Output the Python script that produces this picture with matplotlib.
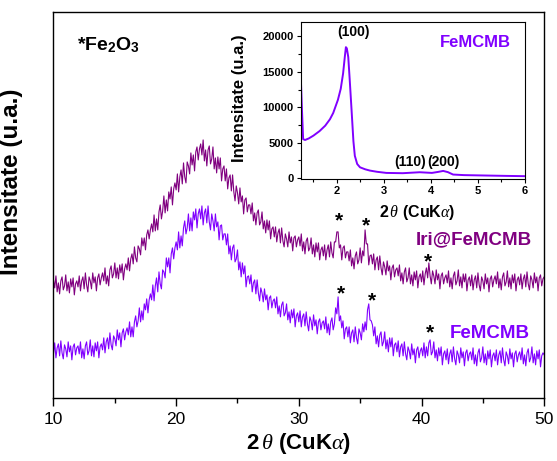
import numpy as np
import matplotlib
matplotlib.use('Agg')
import matplotlib.pyplot as plt
from matplotlib.ticker import MultipleLocator

plt.rcParams['font.family'] = ['Liberation Sans', 'DejaVu Sans']
plt.rcParams['mathtext.fontset'] = 'custom'
plt.rcParams['mathtext.rm'] = 'Liberation Sans'
plt.rcParams['mathtext.bf'] = 'Liberation Sans:bold'
plt.rcParams['mathtext.it'] = 'Liberation Serif:italic'

# 2theta grid of the wide-angle scans (deg), step 0.1
two_theta = np.round(np.arange(10.0, 50.001, 0.1), 1)

# Iri@FeMCMB, arbitrary units (offset trace), one row per 2 deg
iri = [
    118, 110, 122, 106, 115, 104, 117, 121, 108, 112, 123, 107, 116, 105, 119, 111, 120, 103, 114, 117,
    111, 122, 107, 117, 121, 109, 125, 113, 106, 121, 117, 109, 125, 115, 121, 107, 120, 124, 113, 120,
    125, 117, 130, 114, 122, 112, 128, 132, 120, 124, 135, 120, 130, 119, 133, 125, 134, 118, 129, 134,
    128, 140, 127, 139, 144, 134, 151, 140, 136, 152, 149, 143, 160, 152, 160, 148, 163, 168, 159, 168,
    174, 166, 183, 167, 179, 168, 186, 193, 179, 187, 202, 185, 198, 187, 206, 199, 211, 193, 209, 215,
    208, 224, 206, 221, 228, 214, 235, 221, 215, 236, 232, 224, 245, 233, 243, 227, 246, 251, 238, 249,
    254, 243, 258, 237, 248, 232, 248, 252, 234, 239, 251, 229, 240, 225, 241, 229, 240, 217, 229, 232,
    217, 229, 209, 220, 223, 207, 223, 206, 197, 212, 205, 194, 210, 196, 202, 184, 198, 200, 186, 193,
    193, 184, 195, 177, 185, 173, 185, 188, 173, 176, 186, 169, 177, 165, 178, 168, 177, 159, 169, 171,
    161, 171, 156, 165, 169, 155, 170, 157, 151, 164, 159, 151, 166, 155, 161, 147, 160, 162, 151, 158,
    161, 152, 164, 147, 156, 144, 157, 160, 147, 150, 160, 144, 153, 141, 155, 146, 155, 138, 148, 151,
    142, 153, 138, 148, 153, 141, 156, 145, 140, 156, 156, 166, 166, 150, 153, 138, 150, 152, 140, 146,
    146, 137, 148, 132, 140, 129, 142, 146, 134, 138, 150, 135, 147, 142, 168, 154, 154, 133, 142, 143,
    134, 144, 128, 138, 141, 128, 142, 130, 123, 136, 131, 123, 137, 127, 132, 118, 130, 133, 121, 128,
    130, 122, 133, 117, 125, 114, 126, 130, 116, 120, 130, 114, 123, 112, 126, 118, 127, 110, 121, 124,
    116, 127, 113, 124, 130, 120, 135, 122, 114, 127, 122, 114, 128, 118, 124, 109, 122, 125, 114, 120,
    123, 115, 127, 111, 120, 109, 122, 126, 113, 117, 128, 112, 121, 110, 124, 116, 124, 107, 118, 121,
    112, 123, 108, 118, 122, 110, 125, 113, 107, 121, 117, 109, 124, 114, 120, 106, 119, 122, 111, 118,
    122, 114, 126, 110, 119, 108, 121, 125, 112, 116, 127, 111, 120, 109, 123, 115, 124, 107, 118, 121,
    113, 124, 109, 119, 123, 111, 126, 114, 108, 122, 118, 110, 125, 115, 121, 107, 120, 123, 112, 119,
    121,
]

# FeMCMB, arbitrary units
femcmb = [
    44, 55, 40, 50, 54, 42, 57, 45, 39, 53, 49, 41, 56, 46, 52, 38, 51, 54, 43, 50,
    52, 44, 56, 40, 49, 39, 52, 56, 43, 47, 58, 42, 52, 41, 55, 47, 56, 40, 51, 54,
    48, 60, 45, 56, 60, 49, 65, 53, 48, 62, 59, 52, 68, 58, 65, 51, 65, 69, 58, 66,
    70, 63, 76, 61, 71, 61, 76, 82, 71, 77, 90, 76, 87, 78, 94, 88, 99, 85, 98, 104,
    98, 113, 97, 112, 120, 106, 126, 114, 109, 128, 126, 120, 140, 131, 140, 125, 144, 150, 139, 150,
    156, 148, 166, 150, 162, 152, 170, 177, 164, 170, 184, 167, 180, 167, 186, 178, 189, 170, 184, 189,
    179, 192, 173, 185, 189, 175, 192, 176, 168, 184, 177, 167, 184, 171, 176, 158, 172, 173, 158, 164,
    164, 153, 164, 144, 152, 138, 150, 153, 136, 139, 148, 128, 136, 121, 135, 124, 132, 111, 121, 122,
    114, 123, 106, 115, 118, 104, 118, 105, 97, 110, 105, 96, 109, 98, 103, 88, 100, 102, 90, 97,
    99, 90, 101, 84, 92, 81, 93, 96, 82, 85, 94, 78, 86, 75, 88, 80, 89, 71, 82, 85,
    76, 87, 71, 81, 84, 72, 86, 74, 67, 81, 77, 68, 83, 72, 78, 64, 76, 79, 68, 75,
    77, 69, 81, 65, 74, 63, 76, 80, 68, 74, 90, 84, 101, 77, 82, 70, 77, 59, 69, 71,
    61, 71, 55, 65, 68, 56, 71, 60, 54, 69, 65, 58, 74, 66, 76, 68, 88, 94, 78, 77,
    73, 62, 71, 54, 62, 51, 63, 66, 52, 56, 66, 49, 58, 46, 60, 51, 60, 42, 53, 55,
    46, 57, 41, 51, 54, 42, 56, 44, 38, 51, 47, 39, 54, 43, 49, 35, 48, 51, 40, 47,
    50, 42, 55, 40, 51, 42, 55, 58, 43, 46, 56, 40, 48, 37, 50, 42, 51, 33, 44, 47,
    38, 49, 34, 44, 48, 36, 51, 39, 33, 47, 43, 35, 50, 40, 46, 32, 45, 48, 37, 44,
    46, 38, 50, 34, 43, 32, 45, 49, 36, 40, 51, 35, 44, 33, 47, 39, 48, 31, 42, 45,
    37, 48, 33, 43, 47, 35, 50, 38, 32, 46, 42, 34, 49, 39, 45, 31, 44, 47, 36, 43,
    46, 38, 50, 34, 43, 32, 45, 49, 36, 40, 51, 35, 44, 33, 47, 39, 48, 31, 42, 45,
    43,
]

# small-angle scan of FeMCMB (inset)
sa_theta = [1.23, 1.25, 1.28, 1.32, 1.4, 1.5, 1.63, 1.75, 1.85, 1.92, 2.02,
            2.08, 2.13, 2.17, 2.19, 2.21, 2.24, 2.27, 2.31, 2.35, 2.38, 2.43,
            2.49, 2.6, 2.7, 2.85, 3.05, 3.4, 3.76, 4.02, 4.15, 4.26, 4.36,
            4.47, 4.7, 5.18, 5.6, 6.0]
sa_int = [14300, 10500, 5500, 5380, 5600, 6000, 6640, 7400, 8300, 9190, 11040,
          12600, 14750, 17300, 18470, 18300, 17080, 14000, 9650, 5200, 3150,
          2000, 1530, 1250, 1070, 900, 740, 700, 835, 740, 880, 1020, 850,
          510, 430, 370, 320, 280]

# star markers for Fe2O3 reflections
star_iri = [(33.3, 177), (35.5, 172), (40.5, 136)]
star_fe = [(33.4, 104), (36.0, 97), (40.7, 65)]

c_iri = '#800080'
c_fe = '#8000FF'

fig = plt.figure(figsize=(5.57, 4.61), dpi=100)
ax = fig.add_axes([0.096, 0.137, 0.881, 0.837])
ax.plot(two_theta, iri, color=c_iri, lw=0.8)
ax.plot(two_theta, femcmb, color=c_fe, lw=0.8)
ax.set_xlim(10, 50)
ax.set_ylim(0, 386)
ax.set_yticks([])
ax.xaxis.set_major_locator(MultipleLocator(10))
ax.xaxis.set_minor_locator(MultipleLocator(5))
ax.tick_params(axis='x', which='major', direction='out', length=6, width=1,
               labelsize=12.5, pad=4)
ax.tick_params(axis='x', which='minor', direction='out', length=3.5, width=1)
for s in ax.spines.values():
    s.set_linewidth(1.0)
ax.set_xlabel(r'$\mathbf{2}\,\mathit{\theta}$ (CuK$\mathit{\alpha}$)',
              fontsize=16, fontweight='bold', labelpad=3)
ax.set_ylabel('Intensitate (u.a.)', fontsize=17.5, fontweight='bold')
ax.yaxis.set_label_coords(-0.062, 0.56)

ax.text(11.9, 353, r'*Fe$_\mathbf{2}$O$_\mathbf{3}$', fontsize=14,
        fontweight='bold', ha='left', va='center')
ax.text(44.3, 158, 'Iri@FeMCMB', color=c_iri, fontsize=13.5,
        fontweight='bold', ha='center', va='center')
ax.text(45.6, 64, 'FeMCMB', color=c_fe, fontsize=13.5,
        fontweight='bold', ha='center', va='center')
for x, y in star_iri + star_fe:
    ax.text(x, y, '*', fontsize=15, fontweight='bold', ha='center',
            va='center')

# inset
ins = fig.add_axes([0.540, 0.612, 0.4025, 0.340])
ins.plot(sa_theta, sa_int, color=c_fe, lw=1.4)
ins.set_xlim(1.23, 6)
ins.set_ylim(-100, 22000)
ins.xaxis.set_major_locator(MultipleLocator(1))
ins.xaxis.set_minor_locator(MultipleLocator(0.5))
ins.yaxis.set_major_locator(MultipleLocator(5000))
ins.yaxis.set_minor_locator(MultipleLocator(2500))
ins.tick_params(which='major', direction='out', length=3, width=0.8,
                labelsize=8, pad=2)
ins.tick_params(which='minor', direction='out', length=2, width=0.8)
for lab in ins.get_xticklabels() + ins.get_yticklabels():
    lab.set_fontweight('bold')
for s in ins.spines.values():
    s.set_linewidth(0.8)
ins.set_ylabel('Intensitate (u.a.)', fontsize=12, fontweight='bold')
ins.yaxis.set_label_coords(-0.24, 0.516)
ins.set_xlabel(r'$\mathbf{2}\,\mathit{\theta}$ (CuK$\mathit{\alpha}$)',
               fontsize=11.5, fontweight='bold')
ins.xaxis.set_label_coords(0.518, -0.153)
ins.text(2.36, 20600, '(100)', fontsize=10, fontweight='bold',
         ha='center', va='center')
ins.text(3.55, 2260, '(110)', fontsize=10, fontweight='bold',
         ha='center', va='center')
ins.text(4.27, 2260, '(200)', fontsize=10, fontweight='bold',
         ha='center', va='center')
ins.text(4.95, 19100, 'FeMCMB', color=c_fe, fontsize=12, fontweight='bold',
         ha='center', va='center')

fig.savefig('out.png', dpi=100)
